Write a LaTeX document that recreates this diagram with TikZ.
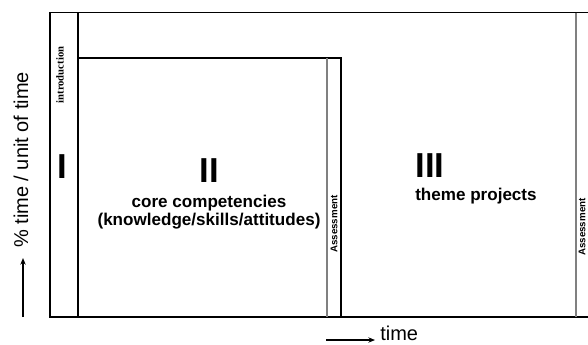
\documentclass[tikz,border=0pt]{standalone}
\usepackage{fontspec}
\setmainfont{Liberation Sans}
\newfontfamily\serifbold{Liberation Serif}
\usetikzlibrary{arrows.meta}
\begin{document}
\begin{tikzpicture}[x=0.75pt,y=-0.75pt,
  frame/.style={draw=black,line width=0.8pt},
  assessline/.style={draw=gray,line width=0.8pt},
  roman/.style={font=\fontsize{26}{26}\selectfont\bfseries,inner sep=0pt,anchor=base},
  lbl/.style={font=\fontsize{12.8}{15}\selectfont\bfseries,inner sep=0pt,anchor=base},
  asmt/.style={font=\fontsize{7.3}{8}\selectfont\bfseries,inner sep=0pt,rotate=90},
  axis/.style={font=\fontsize{15}{18}\selectfont,inner sep=0pt}]
\useasboundingbox (0,0) rectangle (588,344);
% outer frame
\coordinate (tl) at (50,12.5);
\coordinate (bl) at (50,317);
\coordinate (tr) at (588,12.5);
\coordinate (br) at (588,317);
\draw[frame] (tr) -- (tl) -- (bl) -- (br);
% intro divider
\coordinate (it) at (78,12.5);
\coordinate (ib) at (78,317);
\draw[frame] (it) -- (ib);
% phase II box
\coordinate (p2tl) at (78,58);
\coordinate (p2tr) at (341,58);
\coordinate (p2br) at (341,317);
\draw[frame] (p2tl) -- (p2tr) -- (p2br);
\coordinate (a2t) at (327,58);
\coordinate (a2b) at (327,317);
\draw[assessline] (a2t) -- (a2b);
% phase III assessment
\coordinate (a3t) at (576,12.5);
\coordinate (a3b) at (576,317);
\draw[assessline] (a3t) -- (a3b);
% texts
\node[font=\fontsize{8}{9}\selectfont\serifbold\bfseries,rotate=90,inner sep=0pt] (intro) at (60,75) {introduction};
\node[roman] (one) at (62,178) {I};
\node[roman] (two) at (209,182) {II};
\node[lbl] (core) at (209,207) {core competencies};
\node[lbl] (kn) at (209,225) {(knowledge/skills/attitudes)};
\node[roman] (three) at (430,177) {III};
\node[lbl,anchor=base west] (theme) at (415,200) {theme projects};
\node[asmt] (as2) at (334,224) {Assessment};
\node[asmt] (as3) at (582,227) {Assessment};
% axes
\node[axis,rotate=90] (ylab) at (21,160) {\% time / unit of time};
\coordinate (ya) at (23,317);
\coordinate (yb) at (23,258);
\draw[line width=0.8pt,-{Stealth[length=5pt,width=4pt]}] (ya) -- (yb);
\node[axis,anchor=base west] (tlab) at (380,340) {time};
\coordinate (xa) at (326,340);
\coordinate (xb) at (375,340);
\draw[line width=0.8pt,-{Stealth[length=5pt,width=4pt]}] (xa) -- (xb);
\end{tikzpicture}
\end{document}
